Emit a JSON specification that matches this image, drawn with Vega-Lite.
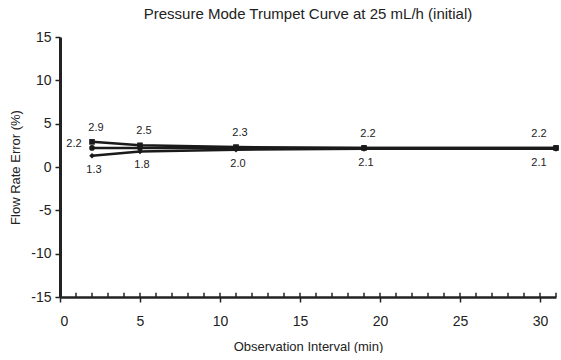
{
  "$schema": "https://vega.github.io/schema/vega-lite/v6.json",
  "width": 496,
  "height": 260,
  "padding": {"left": 9, "top": 7, "right": 3, "bottom": 0},
  "background": "white",
  "config": {
    "font": "Liberation Sans",
    "view": {"stroke": null},
    "axis": {"labelFont": "Liberation Sans", "titleFont": "Liberation Sans", "labelColor": "#222", "titleColor": "#222", "grid": false}
  },
  "title": {"text": "Pressure Mode Trumpet Curve at 25 mL/h (initial)", "fontSize": 15, "fontWeight": "normal", "color": "#222", "font": "Liberation Sans", "offset": 8},
  "datasets": {
    "pts": [
      {"t": 2, "series": "Max", "v": 2.9},
      {"t": 5, "series": "Max", "v": 2.5},
      {"t": 11, "series": "Max", "v": 2.3},
      {"t": 19, "series": "Max", "v": 2.2},
      {"t": 31, "series": "Max", "v": 2.2},
      {"t": 2, "series": "Mean", "v": 2.2},
      {"t": 5, "series": "Mean", "v": 2.2},
      {"t": 11, "series": "Mean", "v": 2.2},
      {"t": 19, "series": "Mean", "v": 2.2},
      {"t": 31, "series": "Mean", "v": 2.2},
      {"t": 2, "series": "Min", "v": 1.3},
      {"t": 5, "series": "Min", "v": 1.8},
      {"t": 11, "series": "Min", "v": 2.0},
      {"t": 19, "series": "Min", "v": 2.1},
      {"t": 31, "series": "Min", "v": 2.1}
    ],
    "minor": [
      {"t": 0}, {"t": 1}, {"t": 2}, {"t": 3}, {"t": 4}, {"t": 5}, {"t": 6}, {"t": 7}, {"t": 8}, {"t": 9}, {"t": 10},
      {"t": 11}, {"t": 12}, {"t": 13}, {"t": 14}, {"t": 15}, {"t": 16}, {"t": 17}, {"t": 18}, {"t": 19}, {"t": 20},
      {"t": 21}, {"t": 22}, {"t": 23}, {"t": 24}, {"t": 25}, {"t": 26}, {"t": 27}, {"t": 28}, {"t": 29}, {"t": 30}, {"t": 31}
    ]
  },
  "layer": [
    {
      "mark": {"type": "rule", "strokeDash": [4, 3], "strokeWidth": 1.5, "color": "#222"},
      "encoding": {"y": {"datum": 0, "type": "quantitative"}}
    },
    {
      "mark": {"type": "rule", "strokeWidth": 2.5, "color": "#222"},
      "encoding": {"y": {"datum": 15, "type": "quantitative"}}
    },
    {
      "data": {"name": "minor"},
      "mark": {"type": "rule", "strokeWidth": 1.5, "color": "#222"},
      "encoding": {
        "x": {"field": "t", "type": "quantitative"},
        "y": {"datum": -15, "type": "quantitative"},
        "y2": {"datum": -14.5}
      }
    },
    {
      "data": {"name": "pts"},
      "mark": {"type": "line", "strokeWidth": 2.5, "color": "#1a1a1a", "clip": false},
      "encoding": {
        "x": {"field": "t", "type": "quantitative", "scale": {"domain": [0, 31], "nice": false, "zero": false},
          "axis": {"values": [0, 5, 10, 15, 20, 25, 30],
            "tickSize": 5, "tickWidth": 1.5, "tickColor": "#222", "domainWidth": 2.5, "domainColor": "#222", "labelFontSize": 14, "labelPadding": 12, "title": "Observation Interval (min)", "titleFontSize": 13, "titleFontWeight": "normal", "titlePadding": 12}},
        "y": {"field": "v", "type": "quantitative", "scale": {"domain": [-15, 15], "nice": false},
          "axis": {"values": [-15, -10, -5, 0, 5, 10, 15], "labelExpr": "replace(datum.label, '−', '-')", "tickSize": 5, "tickWidth": 1.5, "tickColor": "#222", "domainWidth": 3, "domainColor": "#222", "labelFontSize": 14, "labelPadding": 4, "title": "Flow Rate Error (%)", "titleFontSize": 13, "titleFontWeight": "normal", "titlePadding": 8}},
        "detail": {"field": "series"}
      }
    },
    {
      "data": {"name": "pts"},
      "mark": {"type": "point", "filled": true, "color": "#1a1a1a", "size": 32, "opacity": 1, "clip": false},
      "encoding": {
        "x": {"field": "t", "type": "quantitative"},
        "y": {"field": "v", "type": "quantitative"},
        "shape": {"field": "series", "type": "nominal", "scale": {"domain": ["Max", "Mean", "Min"], "range": ["square", "circle", "diamond"]}, "legend": null}
      }
    },
    {
      "data": {"name": "pts"},
      "transform": [{"filter": "datum.series == 'Max' && datum.t < 31"}],
      "mark": {"type": "text", "fontSize": 11, "color": "#222", "dy": -14, "dx": 4},
      "encoding": {
        "x": {"field": "t", "type": "quantitative"},
        "y": {"field": "v", "type": "quantitative"},
        "text": {"field": "v", "type": "quantitative", "format": ".1f"}
      }
    },
    {
      "data": {"name": "pts"},
      "transform": [{"filter": "datum.series == 'Min' && datum.t < 31"}],
      "mark": {"type": "text", "fontSize": 11, "color": "#222", "dy": 14, "dx": 2},
      "encoding": {
        "x": {"field": "t", "type": "quantitative"},
        "y": {"field": "v", "type": "quantitative"},
        "text": {"field": "v", "type": "quantitative", "format": ".1f"}
      }
    },
    {
      "data": {"name": "pts"},
      "transform": [{"filter": "datum.series == 'Max' && datum.t == 31"}],
      "mark": {"type": "text", "fontSize": 11, "color": "#222", "dy": -14, "dx": -17},
      "encoding": {
        "x": {"field": "t", "type": "quantitative"},
        "y": {"field": "v", "type": "quantitative"},
        "text": {"field": "v", "type": "quantitative", "format": ".1f"}
      }
    },
    {
      "data": {"name": "pts"},
      "transform": [{"filter": "datum.series == 'Min' && datum.t == 31"}],
      "mark": {"type": "text", "fontSize": 11, "color": "#222", "dy": 14, "dx": -17},
      "encoding": {
        "x": {"field": "t", "type": "quantitative"},
        "y": {"field": "v", "type": "quantitative"},
        "text": {"field": "v", "type": "quantitative", "format": ".1f"}
      }
    },
    {
      "data": {"name": "pts"},
      "transform": [{"filter": "datum.series == 'Mean' && datum.t == 2"}],
      "mark": {"type": "text", "fontSize": 11, "color": "#222", "dy": -4, "dx": -18},
      "encoding": {
        "x": {"field": "t", "type": "quantitative"},
        "y": {"field": "v", "type": "quantitative"},
        "text": {"field": "v", "type": "quantitative", "format": ".1f"}
      }
    }
  ]
}
